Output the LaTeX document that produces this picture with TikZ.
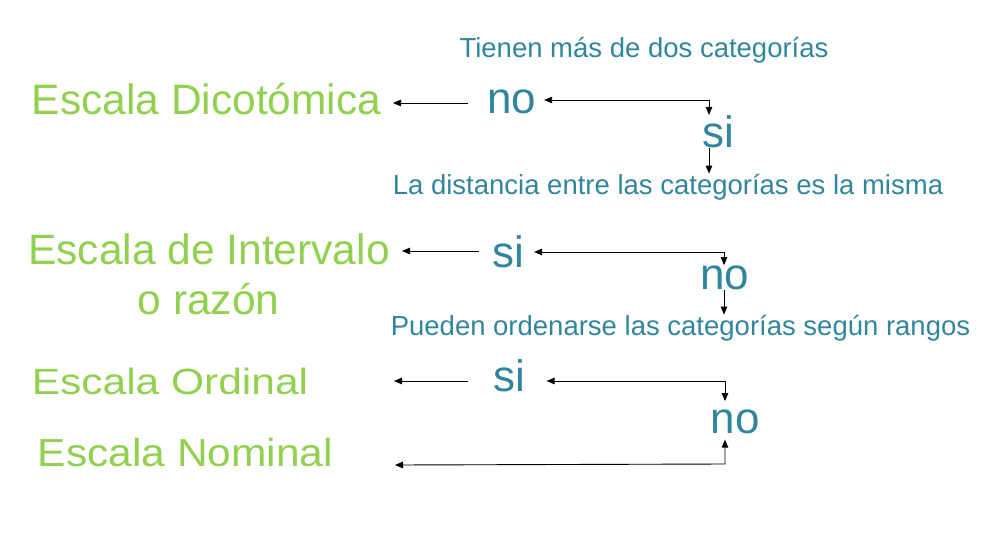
\documentclass[tikz,border=0pt]{standalone}
\usepackage{fontspec}
\usepackage{graphicx}
\setmainfont{Liberation Sans}
\usetikzlibrary{arrows.meta}
\definecolor{escgreen}{HTML}{92D050}
\definecolor{qteal}{HTML}{31859C}
\tikzset{
  scalelabel/.style={text=escgreen, inner sep=0pt, anchor=base, font=\fontsize{42.5}{50}\selectfont, align=center},
  question/.style={text=qteal, inner sep=0pt, anchor=base, font=\fontsize{27.5}{32}\selectfont},
  answer/.style={text=qteal, inner sep=0pt, anchor=base, font=\fontsize{44}{50}\selectfont},
  arr/.style={line width=0.9pt, -{Triangle[length=8pt,width=6.5pt]}},
  dbl/.style={line width=0.9pt, {Triangle[length=8pt,width=6.5pt]}-{Triangle[length=8pt,width=6.5pt]}}
}
\begin{document}
\begin{tikzpicture}[x=1pt,y=-1pt]
\useasboundingbox (0,0) rectangle (992,538);
% scale labels
\node[scalelabel] (dico) at (206.5,114) {Escala Dicotómica};
\node[scalelabel] (inter) at (209,264) {Escala de Intervalo};
\node[scalelabel] (razon) at (208.5,314) {o razón};
\node[scalelabel] (ord) at (170,394) {\scalebox{1}[0.86]{Escala Ordinal}};
\node[scalelabel] (nom) at (185.5,466) {\scalebox{1}[0.92]{Escala Nominal}};
% questions
\node[question] (q1) at (644,57) {Tienen más de dos categorías};
\node[question] (q2) at (668,194) {La distancia entre las categorías es la misma};
\node[question] (q3) at (680.5,335) {Pueden ordenarse las categorías según rangos};
% answers
\node[answer] (no1) at (511.5,113) {no};
\node[answer] (si1) at (718,147) {si};
\node[answer] (si2) at (508,267) {si};
\node[answer] (no2) at (724.5,289) {no};
\node[answer] (si3) at (509.5,391) {si};
\node[answer] (no3) at (735,433) {no};
% corners and free ends
\coordinate (k1) at (709,100);
\coordinate (k2) at (724,252);
\coordinate (k3) at (725,381);
\coordinate (k4) at (725,464);
\coordinate (t1) at (468,103);
\coordinate (h1) at (393,103);
\coordinate (t2) at (479,251);
\coordinate (h2) at (402,251);
\coordinate (t3) at (468,381);
\coordinate (h3) at (394,381);
\coordinate (h4) at (395,465);
% left arrows
\draw[arr] (t1) -- (h1);
\draw[arr] (t2) -- (h2);
\draw[arr] (t3) -- (h3);
% elbows
\draw[dbl, shorten <=8pt] (k1 -| no1.east) -- (k1) -- (k1 |- si1.north);
\draw[arr] (k1 |- si1.south) -- (k1 |- q2.north);
\draw[dbl, shorten <=10pt] (k2 -| si2.east) -- (k2) -- (k2 |- no2.north);
\draw[arr] (k2 |- no2.south) -- (k2 |- q3.north);
\draw[dbl, shorten <=21pt, shorten >=8pt] (k3 -| si3.east) -- (k3) -- (k3 |- no3.north);
\draw[dbl, shorten >=6pt] (h4) -- (k4) -- (k4 |- no3.south);
\end{tikzpicture}
\end{document}
